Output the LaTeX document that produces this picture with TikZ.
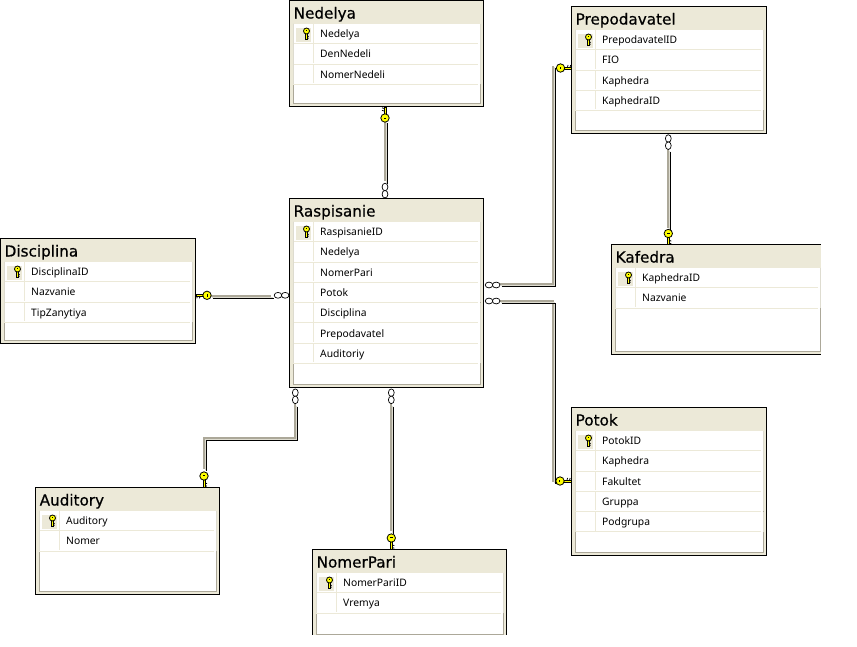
\documentclass[tikz,border=0pt]{standalone}
\usepackage{fontspec}
\setmainfont{Noto Sans}
\newfontfamily\titlefont[FakeBold=0.6]{DejaVu Sans}
\usetikzlibrary{calc}
\definecolor{beige}{HTML}{ECE9D8}
\definecolor{ergray}{HTML}{ACA899}
\definecolor{lite}{HTML}{DEDCD0}
\definecolor{keyy}{HTML}{FFFF00}
\tikzset{
  x=1pt,y=-1pt,
  tablebox/.style={draw=black,line width=1pt,fill=beige,inner sep=0pt,outer sep=0pt,rectangle},
  titletext/.style={font=\titlefont\fontsize{15.2}{17}\selectfont,inner sep=0pt,text=black},
  rowtext/.style={font=\fontsize{10.3}{12}\selectfont,inner sep=0pt,text=black},
  rowline/.style={draw=beige,line width=1pt},
  connG/.style={draw=ergray,line width=2pt,transform canvas={shift={(-2.5,-2.5)}}},
  connL/.style={draw=lite,line width=1pt,transform canvas={shift={(-1,-1)}}},
  connB/.style={draw=black,line width=1pt},
  erkey/.pic={
    \fill[keyy,draw=black,line width=.6pt] (-1.1,3) rectangle (1.2,11);
    \draw[black,line width=.8pt] (1.2,7) -- (3,7.6) (1.2,9.6) -- (3,10.2);
    \fill[keyy,draw=black,line width=.8pt] (0,0) circle (4.2);
    \draw[black,line width=.8pt] (-1.2,-.6) -- (1.2,-.6);
  },
  ermany/.pic={
    \draw[black,fill=white,line width=.7pt] (0,0) ellipse (2.9 and 3.8);
    \draw[black,fill=white,line width=.7pt] (0,7.2) ellipse (2.9 and 3.8);
  },
}
\newcommand\conn[1]{%
  \draw[connG] #1;
  \draw[connL] #1;
  \draw[connB] #1;
}
\newcommand\tbl[7]{%
  \node[tablebox,anchor=north west,minimum width={(#5-#3)*1pt},minimum height={(#6-#4)*1pt}] (#1) at (#3,#4) {};
  \fill[white] ({#3+3},{#4+23}) rectangle ({#5-3},{#6-3});
  \draw[ergray,line width=1pt] ({#3+3.5},{#4+23}) -- ({#3+3.5},{#6-3.5}) -- ({#5-3.5},{#6-3.5}) -- ({#5-3.5},{#4+23});
  \node[titletext,anchor=base west] (#1-title) at ({#3+4},{#4+18}) {#2};
  \foreach \r [count=\i] in {#7} {
    \pgfmathsetmacro\yc{#4+33+(\i-1)*20.3}
    \draw[rowline] ({#3+3},{\yc+10.2}) -- ({#5-5.5},{\yc+10.2});
    \draw[rowline] ({#3+23.5},{\yc-10}) -- ({#3+23.5},{\yc+9});
    \draw[lite,line width=1pt] ({#5-3.5},{\yc-10}) -- ({#5-3.5},{\yc+10});
    \draw[lite,line width=1pt] ({#3+3.5},{\yc-10}) -- ({#3+3.5},{\yc+10});
    \node[rowtext,anchor=base west] (#1-\i) at ({#3+30.5},{\yc+4}) {\r};
  }
  \fill[beige] ({#3+6.5},{#4+27}) rectangle ({#3+21.5},{#4+41});
  \pic[scale=.72] at ({#3+17},{#4+30.5}) {erkey};
}
\begin{document}
\begin{tikzpicture}
\fill[white] (0,0) rectangle (857,646);
\useasboundingbox (0,0) rectangle (857,646);

\tbl{Nedelya}{Nedelya}{289.5}{0.5}{483.5}{106.5}{Nedelya,DenNedeli,NomerNedeli}
\tbl{Prepodavatel}{Prepodavatel}{571.5}{6.5}{766.5}{133.5}{PrepodavatelID,FIO,Kaphedra,KaphedraID}
\tbl{Raspisanie}{Raspisanie}{289.5}{198.5}{483.5}{387.5}{RaspisanieID,Nedelya,NomerPari,Potok,Disciplina,Prepodavatel,Auditoriy}
\tbl{Kafedra}{Kafedra}{611.5}{244.5}{823.5}{354.5}{KaphedraID,Nazvanie}
\tbl{Disciplina}{Disciplina}{0.5}{238.5}{195.5}{343.5}{DisciplinaID,Nazvanie,TipZanytiya}
\tbl{Potok}{Potok}{571.5}{407.5}{766.5}{555.5}{PotokID,Kaphedra,Fakultet,Gruppa,Podgrupa}
\tbl{Auditory}{Auditory}{35.5}{487.5}{219.5}{594.5}{Auditory,Nomer}
\tbl{NomerPari}{NomerPari}{312.5}{549.5}{506.5}{637.5}{NomerPariID,Vremya}

% the picture crops these two tables
\fill[white] (820.6,238) rectangle (857,360);
\fill[white] (305,634.6) rectangle (515,646);

% connector ends
\coordinate (nedE) at ([shift={(.5,16)}]Nedelya.south);
\coordinate (rasN) at ([shift={(.5,-15)}]Raspisanie.north);
\coordinate (rasP) at ([shift={(18,-7)}]Raspisanie.east);
\coordinate (rasT) at ([shift={(18,10)}]Raspisanie.east);
\coordinate (prepS) at ([shift={(1,18)}]Prepodavatel.south);
\coordinate (disE) at ([shift={(17,7)}]Disciplina.east);
\coordinate (rasW) at ([shift={(-16,5)}]Raspisanie.west);
\coordinate (rasA) at ([shift={(-89,19)}]Raspisanie.south);
\coordinate (rasV) at ([shift={(7,19)}]Raspisanie.south);
\coordinate (nomK) at ([shift={(-16,-16)}]NomerPari.north);

% connectors
\conn{(rasN) -- (nedE)}
\conn{(rasP) -| (555.5,68)}
\conn{(rasT) -| (555.5,483) -- (557,483)}
\conn{(prepS) -- (670,230)}
\conn{(disE) -- (rasW)}
\conn{(rasA) -- (297.5,440.5) -- (206.5,440.5) -- (206.5,471)}
\conn{(rasV) -- (nomK)}

% key ends
\pic[rotate=180] at (385,118) {erkey};
\pic[rotate=90] at (560.5,68) {erkey};
\pic[rotate=90] at (560,481) {erkey};
\pic at (668.3,233.5) {erkey};
\pic[rotate=-90] at (207,295.3) {erkey};
\pic at (204,476) {erkey};
\pic at (391.3,538) {erkey};

% many ends
\pic at (385,187) {ermany};
\pic[rotate=90] at (489,285) {ermany};
\pic[rotate=90] at (489,301) {ermany};
\pic at (668.3,138.5) {ermany};
\pic[rotate=90] at (278,295.3) {ermany};
\pic at (295.3,392.7) {ermany};
\pic at (391.3,392.7) {ermany};
\end{tikzpicture}
\end{document}
